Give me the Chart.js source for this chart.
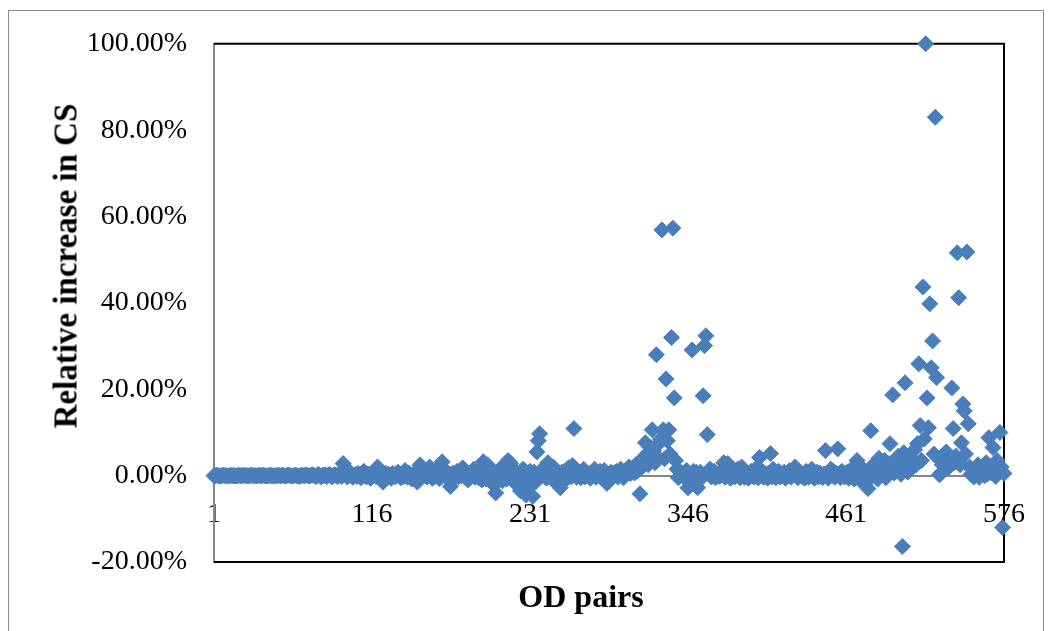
<!DOCTYPE html>
<html>
<head>
<meta charset="utf-8">
<script src="https://cdn.jsdelivr.net/npm/chart.js@4/dist/chart.umd.min.js"></script>
<style>
  html, body { margin: 0; padding: 0; background: #fff; }
  #wrap { position: relative; width: 1049px; height: 631px; overflow: hidden; }
  #frame { position: absolute; left: 8px; top: 10px; width: 1034px; height: 640px; border: 1px solid #8c8c8c; }
  #chart { position: absolute; left: 0; top: 0; }
  .axis-title { position: absolute; font-family: "Liberation Serif", "Times New Roman", serif; font-weight: bold; color: #000; white-space: nowrap; }
  #yTitle { left: 66px; top: 266px; font-size: 33px; transform: translate(-50%, -50%) rotate(-90deg); }
  #xTitle { left: 581px; top: 596px; font-size: 32px; transform: translate(-50%, -50%); }
</style>
</head>
<body>
<div id="wrap">
  <div id="frame"></div>
  <canvas id="chart" width="1049" height="631"></canvas>
  <div class="axis-title" id="yTitle">Relative increase in CS</div>
  <div class="axis-title" id="xTitle">OD pairs</div>
</div>
<script>
// relative increase in CS (%), one value per OD pair 1..576
const csIncrease = [
  0,0,0.1,0,-0.1,0,0,0.1,0,0,-0.1,0,0.1,0,0,0,-0.1,0,0.1,0,0,0,0.1,0,
  0,-0.1,0,0.1,0,0,0,-0.1,0,0.1,0,0,0.1,0,-0.1,0,0,0.1,0,0,-0.1,0,0,0.1,
  0,0,0.1,0,-0.1,0,0.2,0,0,-0.1,0,0.1,0,0,-0.2,0,0.1,0,0,0.2,0,-0.1,0,0.1,
  0.2,0,-0.2,0,0.3,0,-0.3,0.1,0,0.2,-0.2,0,0.3,0,-0.3,0.1,0.2,0,-0.2,0.4,0,-0.2,2.8,0.5,
  0.3,-0.3,0,0.8,0.2,-0.4,0,0.3,-0.2,0.5,0,-0.5,0.2,1.0,0,-0.3,0.4,0,-0.6,0.3,0,0.5,-0.2,2.0,
  0.4,-0.3,0.6,-1.5,0,0.5,-0.4,0.3,0,-0.6,0.5,0,-0.3,0.6,0.8,0,-0.5,0.4,-0.2,1.2,0,-0.4,0.6,0,
  -0.8,0.3,0,0.6,-1.5,0.2,2.5,-0.4,0.5,0,1.0,-0.3,0.4,2.0,0,-0.6,0.5,-0.2,1.2,0,-0.7,0.4,3.2,0.3,
  0,1.0,-0.5,0.3,-2.5,0.2,0.6,-0.4,0,1.0,-0.3,0.4,0,1.8,0.2,-0.5,0.5,-1.0,0.3,0,0.6,1.5,-0.4,0.2,
  1.0,-0.6,0.4,-1.0,3.2,0.5,-0.8,2.5,0.2,-0.5,-1.5,0.8,-2.2,-4.0,0.6,-0.3,1.5,0,-1.2,2.0,0.4,-0.8,3.5,1.0,
  2.8,0.6,-1.0,1.2,-2.0,0.4,-0.8,-3.5,0.3,1.5,-1.2,-4.5,0.5,-2.5,1.0,-1.5,-4.8,0.8,-1.5,5.5,8.1,9.7,0.6,1.5,
  0.5,2.0,-0.6,3.0,0.4,1.0,-0.8,2.0,0.3,-1.5,0.6,-0.5,-2.8,0.8,-1.0,1.0,0.2,-0.6,1.8,0.4,-0.3,2.3,10.9,0.6,
  -0.4,1.0,0.3,-0.5,0.6,1.5,-0.3,0.4,0,0.5,-0.6,0.3,0.8,1.5,-0.4,0.2,0.6,1.0,-0.5,0.3,1.2,0,-1.8,0.4,
  0.2,0.8,-0.4,0.5,0.3,1.0,-0.3,0.6,1.5,0.2,-0.5,1.0,0.4,0.8,2.0,0.5,1.2,1.5,0.6,2.5,1.0,3.0,-4.2,1.8,
  3.5,4.0,7.6,5.0,2.5,4.5,6.5,10.6,5.8,3.0,28.0,4.2,7.5,8.5,56.9,10.6,3.9,22.4,8.1,10.6,5.0,32.0,57.3,18.0,
  3.5,1.5,-0.5,1.0,0.3,0.5,-0.4,0.6,1.2,-2.8,0.4,-0.6,29.1,1.0,-0.5,0.8,-2.8,0.3,0.8,-0.5,18.5,30.1,32.4,9.5,
  0.4,1.5,-0.3,0.6,1.0,-0.5,0.3,0.5,-0.2,0.8,0.2,3.0,-0.4,0.5,2.8,0.3,-0.6,1.0,0.2,-0.3,0.6,1.5,0,-0.5,
  2.0,0.3,-0.4,0.8,0.2,-0.6,0.4,1.0,0,-0.3,1.5,0.5,-0.5,4.2,0.3,1.0,-0.4,0.5,0.2,-0.6,0.6,5.1,-0.3,1.5,
  0.3,-0.5,0.2,1.0,-0.3,0.4,0,0.8,-0.6,0.3,0.5,1.2,-0.4,0.2,0.6,2.0,0,-0.5,0.3,0.5,-0.2,0.4,-0.6,1.0,
  0.2,-0.4,0.5,1.5,0,-0.6,0.3,0.8,-0.3,0.6,0.2,-0.5,0.4,5.8,0.3,-0.6,0.8,1.5,0,1.0,-0.4,0.5,6.2,0.3,
  -0.5,1.0,0.4,-0.3,0.6,0.8,-0.6,0.3,1.5,0.2,-0.8,1.2,3.5,0.5,-1.0,2.0,0.8,1.0,0.3,-1.5,-3.0,0.6,10.4,1.8,
  2.5,0.5,1.5,-0.8,4.0,1.0,2.0,0.2,3.5,-0.5,1.0,2.8,7.4,1.5,18.7,0.6,2.5,3.0,4.5,1.0,0.3,-16.4,5.3,21.5,
  3.0,0.8,1.5,2.2,4.0,2.5,6.0,2.5,7.4,25.9,11.6,3.5,43.7,8.5,100,18.0,11.1,39.8,25.0,31.2,5.0,83.0,22.7,4.0,
  0.2,0.5,2.5,3.0,3.0,5.5,4.0,2.0,2.8,20.3,10.9,3.0,4.5,51.6,41.2,2.5,7.6,16.6,15.0,5.0,51.8,12.0,2.0,0.3,
  0.5,-0.3,1.0,0.2,2.5,-0.4,0.5,1.2,1.5,0,3.0,0.4,8.8,2.0,0.6,6.5,1.0,-0.2,3.5,1.5,10.0,2.0,-12.0,0.5
];

const xTickValues = [1, 116, 231, 346, 461, 576];
const yTickValues = [-20, 0, 20, 40, 60, 80, 100];

const points = csIncrease.map((v, i) => ({ x: i + 1, y: v }));

// plot area frame: black top/right/bottom, the left side is the grey value axis
const plotFrame = {
  id: 'plotFrame',
  beforeDatasetsDraw(chart) {
    const { ctx, chartArea: a } = chart;
    ctx.save();
    ctx.strokeStyle = '#000';
    ctx.lineWidth = 2;
    ctx.beginPath();
    ctx.moveTo(a.left, a.top);
    ctx.lineTo(a.right, a.top);
    ctx.lineTo(a.right, a.bottom);
    ctx.lineTo(a.left, a.bottom);
    ctx.stroke();
    ctx.restore();
  }
};

const tickFont = { family: '"Liberation Serif", "Times New Roman", serif', size: 28 };

new Chart(document.getElementById('chart'), {
  type: 'scatter',
  data: {
    datasets: [{
      data: points,
      pointStyle: 'rectRot',
      pointRadius: 8,
      pointBackgroundColor: '#4A7EBB',
      pointBorderColor: '#4A7EBB',
      pointBorderWidth: 1,
      clip: false
    }]
  },
  options: {
    responsive: false,
    animation: false,
    devicePixelRatio: 1,
    layout: { padding: { left: 0, top: 42, right: 45, bottom: 69 } },
    plugins: { legend: { display: false }, tooltip: { enabled: false } },
    scales: {
      x: {
        type: 'linear',
        position: { y: 0 },
        min: 1,
        max: 576,
        afterBuildTicks: s => { s.ticks = xTickValues.map(v => ({ value: v })); },
        grid: { color: 'transparent', drawTicks: false },
        border: { display: true, color: '#868686', width: 2 },
        ticks: { font: tickFont, color: '#000', padding: 22, maxRotation: 0, autoSkip: false }
      },
      y: {
        type: 'linear',
        min: -20,
        max: 100,
        afterBuildTicks: s => { s.ticks = yTickValues.map(v => ({ value: v })); },
        afterFit: s => { s.width = 214; },
        grid: { color: 'transparent', drawTicks: false },
        border: { display: true, color: '#868686', width: 2 },
        ticks: {
          font: tickFont, color: '#000', padding: 27,
          callback: v => v.toFixed(2) + '%'
        }
      }
    }
  },
  plugins: [plotFrame]
});
</script>
</body>
</html>
